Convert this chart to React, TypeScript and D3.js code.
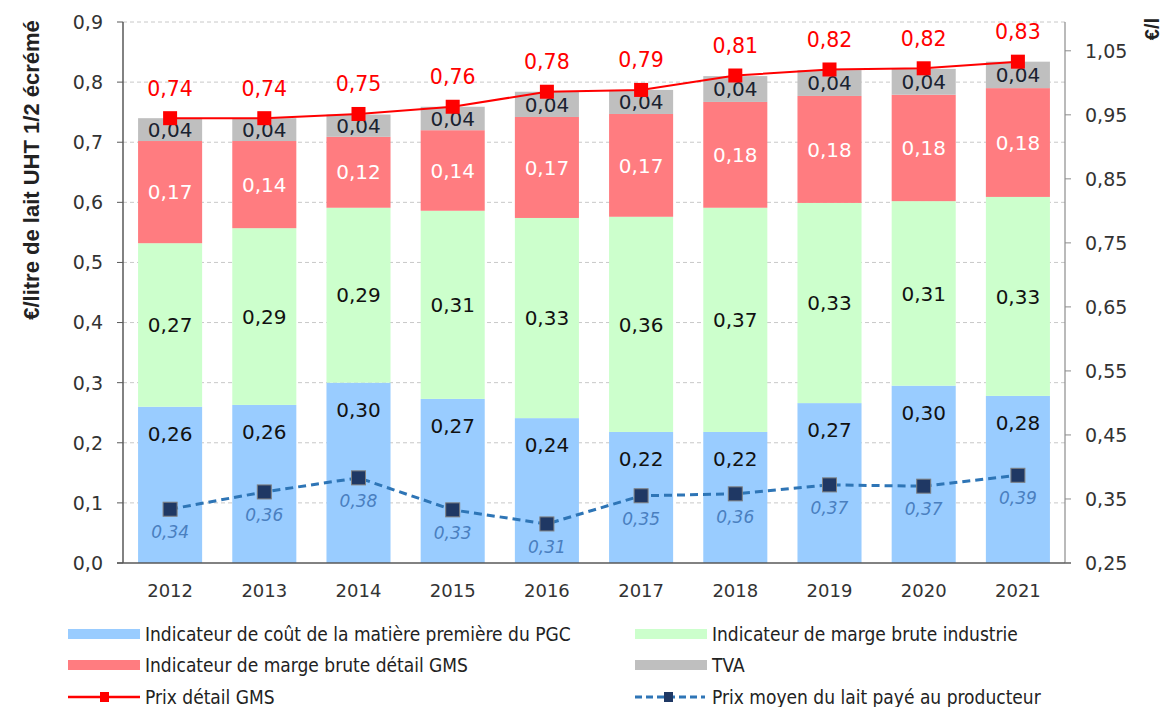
import React from "react";
import * as d3 from "d3";

const years = ["2012", "2013", "2014", "2015", "2016", "2017", "2018", "2019", "2020", "2021"];
const coutMatiere = [0.26, 0.263, 0.3, 0.273, 0.241, 0.218, 0.218, 0.266, 0.295, 0.278];
const margeIndustrie = [0.272, 0.294, 0.291, 0.313, 0.333, 0.358, 0.373, 0.333, 0.307, 0.331];
const margeGMS = [0.17, 0.145, 0.118, 0.134, 0.168, 0.171, 0.176, 0.178, 0.177, 0.181];
const tva = [0.038, 0.038, 0.037, 0.039, 0.042, 0.04, 0.043, 0.043, 0.043, 0.044];
const prixDetail = [0.74, 0.74, 0.747, 0.759, 0.784, 0.787, 0.811, 0.821, 0.823, 0.834];
const prixProducteur = [0.334, 0.361, 0.383, 0.333, 0.311, 0.355, 0.358, 0.372, 0.37, 0.387];

const lblCout = ["0,26", "0,26", "0,30", "0,27", "0,24", "0,22", "0,22", "0,27", "0,30", "0,28"];
const lblInd = ["0,27", "0,29", "0,29", "0,31", "0,33", "0,36", "0,37", "0,33", "0,31", "0,33"];
const lblGMS = ["0,17", "0,14", "0,12", "0,14", "0,17", "0,17", "0,18", "0,18", "0,18", "0,18"];
const lblTva = ["0,04", "0,04", "0,04", "0,04", "0,04", "0,04", "0,04", "0,04", "0,04", "0,04"];
const lblDetail = ["0,74", "0,74", "0,75", "0,76", "0,78", "0,79", "0,81", "0,82", "0,82", "0,83"];
const lblProd = ["0,34", "0,36", "0,38", "0,33", "0,31", "0,35", "0,36", "0,37", "0,37", "0,39"];

const leftTicks = [0, 0.1, 0.2, 0.3, 0.4, 0.5, 0.6, 0.7, 0.8, 0.9];
const rightTicks = [0.25, 0.35, 0.45, 0.55, 0.65, 0.75, 0.85, 0.95, 1.05];

const seriesNames = [
  "Indicateur de coût de la matière première du PGC",
  "Indicateur de marge brute industrie",
  "Indicateur de marge brute détail GMS",
  "TVA",
];
const lineNames = ["Prix détail GMS", "Prix moyen du lait payé au producteur"];
const colors = ["#99ccff", "#ccffcc", "#ff7c80", "#bfbfbf"];

const FONT = "'DejaVu Sans', 'Noto Sans', sans-serif";
const LEGEND_FONT = "'DejaVu Sans Condensed', 'DejaVu Sans', sans-serif";
const LEGEND_SIZE = 19;

export default function App() {
  const W = 1166, H = 707;
  const left = 123, right = 1065, top = 22, bottom = 563;
  const x = d3.scaleBand<string>().domain(years).range([left, right]).paddingInner(0.32).paddingOuter(0.16);
  const y = d3.scaleLinear().domain([0, 0.9]).range([bottom, top]);
  const yR = d3.scaleLinear().domain([0.25, 1.095]).range([bottom, top]);

  const rows = years.map((yr, i) => ({ year: yr, a: coutMatiere[i], b: margeIndustrie[i], c: margeGMS[i], d: tva[i] }));
  const stack = d3.stack<any>().keys(["a", "b", "c", "d"])(rows);
  const labels = [lblCout, lblInd, lblGMS, lblTva];
  const labelColors = ["#111", "#111", "#ffffff", "#1a2230"];

  const cx = (i: number) => (x(years[i]) as number) + x.bandwidth() / 2;
  const redLine = d3.line<number>().x((_, i) => cx(i)).y((v) => y(v))(prixDetail) as string;
  const blueLine = d3.line<number>().x((_, i) => cx(i)).y((v) => yR(v))(prixProducteur) as string;

  return (
    <svg width={W} height={H} style={{ position: "absolute", left: 0, top: 0, background: "#fff" }}>
      {leftTicks.slice(1).map((t) => (
        <line key={t} x1={left} x2={right} y1={y(t)} y2={y(t)} stroke="#c8c8c8" strokeDasharray="4,3" strokeWidth={1} />
      ))}
      {stack.map((s, k) =>
        s.map((d, i) => (
          <rect key={k + "-" + i} x={x(years[i])} width={x.bandwidth()} y={y(d[1])} height={y(d[0]) - y(d[1])} fill={colors[k]} />
        ))
      )}
      {stack.map((s, k) =>
        s.map((d, i) => {
          let ly: number;
          if (k === 0) ly = y(d[1]) + 27;
          else ly = (y(d[0]) + y(d[1])) / 2;
          return (
            <text key={"l" + k + "-" + i} x={cx(i)} y={ly} dy="0.36em" textAnchor="middle" fontFamily={FONT}
              fontSize={20} fill={labelColors[k]}>{labels[k][i]}</text>
          );
        })
      )}
      <line x1={left} x2={left} y1={top} y2={bottom} stroke="#595959" strokeWidth={1.5} />
      <line x1={right} x2={right} y1={top} y2={bottom} stroke="#8c8c8c" strokeWidth={1.2} />
      <line x1={left - 6} x2={right + 6} y1={bottom} y2={bottom} stroke="#595959" strokeWidth={1.5} />
      {leftTicks.map((t) => (
        <g key={"lt" + t}>
          <line x1={left - 6} x2={left} y1={y(t)} y2={y(t)} stroke="#595959" />
          <text x={left - 20} y={y(t)} dy="0.36em" textAnchor="end" fontFamily={FONT} fontSize={19} fill="#333">
            {d3.format(".1f")(t).replace(".", ",")}
          </text>
        </g>
      ))}
      {rightTicks.map((t) => (
        <g key={"rt" + t}>
          <line x1={right} x2={right + 6} y1={yR(t)} y2={yR(t)} stroke="#8c8c8c" />
          <text x={right + 20} y={yR(t)} dy="0.36em" textAnchor="start" fontFamily={FONT} fontSize={19} fill="#333">
            {d3.format(".2f")(t).replace(".", ",")}
          </text>
        </g>
      ))}
      {years.map((yr, i) => (
        <text key={"x" + yr} x={cx(i)} y={591} dy="0.36em" textAnchor="middle" fontFamily={FONT} fontSize={18} fill="#333">{yr}</text>
      ))}
      <text transform={`translate(39,170) rotate(-90)`} textAnchor="middle" fontFamily="'Liberation Sans', Arial, sans-serif"
        fontWeight="bold" fontSize={22} fill="#222">€/litre de lait UHT 1/2 écrémé</text>
      <text transform={`translate(1159,29) rotate(-90)`} textAnchor="middle" fontFamily="'Liberation Sans', Arial, sans-serif"
        fontWeight="bold" fontSize={20} fill="#222">€/l</text>
      <path d={redLine} fill="none" stroke="#ff0000" strokeWidth={2} />
      {prixDetail.map((v, i) => (
        <g key={"rd" + i}>
          <rect x={cx(i) - 7} y={y(v) - 7} width={14} height={14} fill="#ff0000" />
          <text x={cx(i)} y={y(v) - 30} dy="0.36em" textAnchor="middle" fontFamily={FONT} fontSize={20.5} fill="#ff0000">{lblDetail[i]}</text>
        </g>
      ))}
      <path d={blueLine} fill="none" stroke="#2e75b6" strokeWidth={3} strokeDasharray="8,5" />
      {prixProducteur.map((v, i) => (
        <g key={"bd" + i}>
          <rect x={cx(i) - 7} y={yR(v) - 7} width={14} height={14} fill="#1f3864" stroke="#7f7f7f" strokeWidth={1} />
          <text x={cx(i)} y={yR(v) + 23} dy="0.36em" textAnchor="middle" fontFamily={FONT} fontSize={17} fontStyle="italic" fill="#4a7fbf">{lblProd[i]}</text>
        </g>
      ))}
      {seriesNames.map((n, k) => {
        const col = k % 2, row = Math.floor(k / 2);
        const lx = col === 0 ? 68 : 635;
        const ly = 634 + row * 31;
        return (
          <g key={"lg" + k}>
            <rect x={lx} y={ly - 5} width={72} height={10} fill={colors[k]} />
            <text x={lx + 77} y={ly} dy="0.36em" fontFamily={LEGEND_FONT} fontSize={LEGEND_SIZE} fill="#222">{n}</text>
          </g>
        );
      })}
      <g>
        <line x1={68} x2={140} y1={697} y2={697} stroke="#ff0000" strokeWidth={2.5} />
        <rect x={100} y={692} width={9} height={10} fill="#ff0000" />
        <text x={145} y={697} dy="0.36em" fontFamily={LEGEND_FONT} fontSize={LEGEND_SIZE} fill="#222">{lineNames[0]}</text>
      </g>
      <g>
        <line x1={635} x2={705} y1={697} y2={697} stroke="#2e75b6" strokeWidth={3} strokeDasharray="7,4" />
        <rect x={664} y={692} width={9} height={10} fill="#1f3864" />
        <text x={712} y={697} dy="0.36em" fontFamily={LEGEND_FONT} fontSize={LEGEND_SIZE} fill="#222">{lineNames[1]}</text>
      </g>
    </svg>
  );
}
